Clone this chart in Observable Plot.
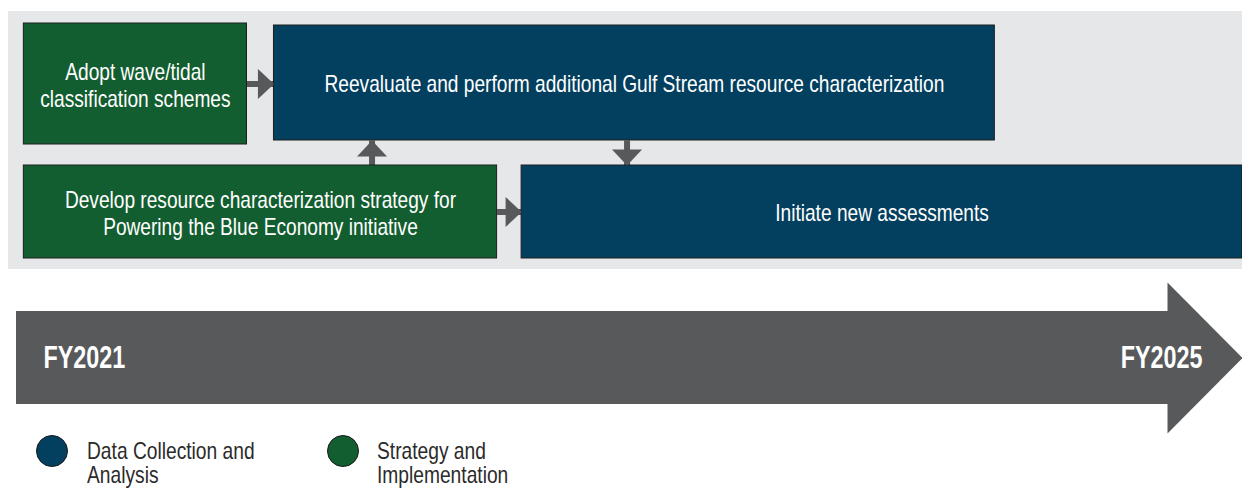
<!DOCTYPE html>
<html>
<head>
<meta charset="utf-8">
<script src="https://cdn.jsdelivr.net/npm/d3@7"></script>
<script src="https://cdn.jsdelivr.net/npm/@observablehq/plot@0.6"></script>
<style>
  html, body { margin: 0; padding: 0; background: #ffffff; }
  #chart { width: 1242px; position: relative; }
  #chart svg { display: block; }
  .legend { position: relative; width: 1242px; height: 55px;
    font-family: "Liberation Sans", Arial, sans-serif; font-size: 24px; color: #2b2b2b; }
  .legend .sw { position: absolute; top: 1px; width: 30px; height: 30px; border-radius: 50%;
    border: 1px solid #1b1b1b; }
  .legend .lb { position: absolute; top: 5px; line-height: 23.7px; white-space: pre;
    transform: scaleX(0.8); transform-origin: 0 0; }
</style>
</head>
<body>
<div id="chart"></div>
<script>
// ---------- data ----------
const groups = ["Data Collection and Analysis", "Strategy and Implementation"];
const groupLegendLabels = ["Data Collection and\nAnalysis", "Strategy and\nImplementation"];
const groupColors = ["#033f5f", "#135e30"];

const taskIds    = ["adopt", "reeval", "develop", "initiate"];
const taskLabels = [
  "Adopt wave/tidal\nclassification schemes",
  "Reevaluate and perform additional Gulf Stream resource characterization",
  "Develop resource characterization strategy for\nPowering the Blue Economy initiative",
  "Initiate new assessments"
];
const taskGroups = [groups[1], groups[0], groups[1], groups[0]];
const taskStart  = [2021.03, 2022.05, 2021.03, 2023.06];   // fiscal-year timeline
const taskEnd    = [2021.94, 2024.99, 2022.96, 2026.00];
const taskRow    = ["upper", "upper", "lower", "lower"];

const linkFrom = ["adopt", "develop", "reeval", "develop"];
const linkTo   = ["reeval", "reeval", "initiate", "initiate"];
const linkAt   = [null, 2022.45, 2023.49, null];           // x of vertical connectors

const milestoneLabels = ["FY2021", "FY2025"];
const milestoneYears  = [2021, 2026];                       // start of FY2021, end of FY2025

// ---------- layout (pixels, vertical) ----------
const rowY = { upper: [23, 144], lower: [165, 258] };
const rowYOverride = { reeval: [25, 140] };
const panelY = [11, 269];
const timelineY = [311, 404];
const timelineHead = { length: 75, halfWidth: 75.5 };
const smallHead = { length: 16, halfWidth: 15 };
const arrowGray = "#58595b";
const FONT = '"Liberation Sans", Arial, sans-serif';
const BOX_FS = 23.2, FY_FS = 32;
const BOX_SQUEEZE = 0.825, FY_SQUEEZE = 0.73;   // emulate the condensed typeface

// ---------- derived tables ----------
const tasks = taskIds.map((id, i) => {
  const [y1, y2] = rowYOverride[id] || rowY[taskRow[i]];
  return { id, label: taskLabels[i], group: taskGroups[i], start: taskStart[i], end: taskEnd[i], row: taskRow[i], y1, y2 };
});
const byId = Object.fromEntries(tasks.map(t => [t.id, t]));

const connectors = linkFrom.map((f, i) => {
  const a = byId[f], b = byId[linkTo[i]];
  if (a.row === b.row) {
    const y = (a.y1 + a.y2) / 2;
    return { x1: a.end, y1: y, x2: b.start, y2: y, rotate: 90 };
  }
  const x = linkAt[i];
  if (a.y1 > b.y2) return { x1: x, y1: a.y1, x2: x, y2: b.y2, rotate: 0 };   // upward
  return { x1: x, y1: a.y2, x2: x, y2: b.y1, rotate: 180 };                 // downward
});

const milestones = milestoneLabels.map((label, i) => ({ label, year: milestoneYears[i] }));

// arrow-head symbol: tip at origin, base behind it (pointing up before rotation)
function headSymbol(ratio) {
  return {
    draw(ctx, size) {
      const r = Math.sqrt(size / Math.PI);
      ctx.moveTo(0, 0);
      ctx.lineTo(r, r * ratio);
      ctx.lineTo(-r, r * ratio);
      ctx.closePath();
    }
  };
}

const tMid = (timelineY[0] + timelineY[1]) / 2;

const chart = Plot.plot({
  width: 1242,
  height: 434,
  margin: 0,
  axis: null,
  x: { domain: [2021, 2026], range: [16, 1242] },
  y: { type: "identity" },
  color: { domain: groups, range: groupColors },
  style: { fontFamily: FONT, background: "#ffffff" },
  marks: [
    Plot.rect([{}], { y1: () => panelY[0], y2: () => panelY[1], insetLeft: 8, fill: "#e6e7e8" }),
    Plot.link(connectors, { x1: "x1", y1: "y1", x2: "x2", y2: "y2", stroke: arrowGray, strokeWidth: 6, strokeLinecap: "butt" }),
    Plot.rect(tasks, { x1: "start", x2: "end", y1: "y1", y2: "y2", fill: "group", stroke: "#1e1e1e", strokeWidth: 1 }),
    Plot.dot(connectors, { x: "x2", y: "y2", r: smallHead.halfWidth, rotate: "rotate",
      symbol: headSymbol(smallHead.length / smallHead.halfWidth), fill: arrowGray, stroke: "none" }),
    Plot.text(tasks, { x: d => (d.start + d.end) / 2, y: d => (d.y1 + d.y2) / 2 + 0.5, text: "label",
      fill: "white", fontSize: BOX_FS, lineHeight: 1.17, fontFamily: FONT }),
    Plot.rect([milestones], { x1: d => d[0].year, x2: d => d[1].year, y1: () => timelineY[0], y2: () => timelineY[1],
      insetRight: timelineHead.length - 2, fill: arrowGray }),
    Plot.dot([milestones[1]], { x: "year", y: () => tMid, r: timelineHead.halfWidth, rotate: 90,
      symbol: headSymbol(timelineHead.length / timelineHead.halfWidth), fill: arrowGray, stroke: "none" }),
    Plot.text([milestones[0]], { x: "year", y: () => tMid, text: "label", textAnchor: "start", dx: 27,
      fill: "white", fontSize: FY_FS, fontWeight: "bold", fontFamily: FONT }),
    Plot.text([milestones[1]], { x: "year", y: () => tMid, text: "label", textAnchor: "end", dx: -40,
      fill: "white", fontSize: FY_FS, fontWeight: "bold", fontFamily: FONT })
  ]
});

// horizontally condense every label about its own anchor
chart.querySelectorAll("g[aria-label='text']").forEach(g => {
  const fs = parseFloat(g.getAttribute("font-size"));
  const s = fs === FY_FS ? FY_SQUEEZE : BOX_SQUEEZE;
  g.querySelectorAll("text").forEach(t => {
    const tr = t.getAttribute("transform");
    if (tr) t.setAttribute("transform", `${tr} scale(${s},1)`);
    else {
      const x = +t.getAttribute("x") || 0, y = +t.getAttribute("y") || 0;
      t.setAttribute("transform", `translate(${x},${y}) scale(${s},1) translate(${-x},${-y})`);
    }
  });
});

const root = document.getElementById("chart");
root.appendChild(chart);

// legend below the SVG
const legend = document.createElement("div");
legend.className = "legend";
const swatchX = [36, 327], labelX = [87, 377];
groups.forEach((g, i) => {
  const sw = document.createElement("div");
  sw.className = "sw";
  sw.style.left = swatchX[i] + "px";
  sw.style.background = groupColors[i];
  const lb = document.createElement("div");
  lb.className = "lb";
  lb.style.left = labelX[i] + "px";
  lb.textContent = groupLegendLabels[i];
  legend.appendChild(sw);
  legend.appendChild(lb);
});
root.appendChild(legend);
</script>
</body>
</html>
